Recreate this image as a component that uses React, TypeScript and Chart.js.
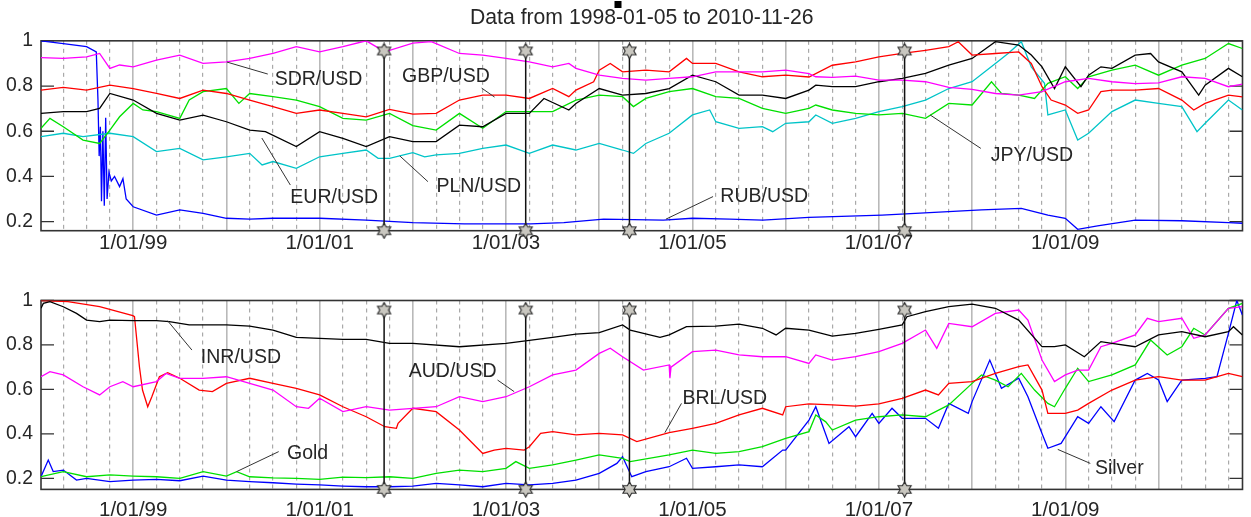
import React, { useEffect, useRef } from 'react';
import { Chart, registerables } from 'chart.js';

Chart.register(...registerables);

type P = [number, number];

// ---------- axes / labels ----------
const X_MIN = 1998.011; // 1998-01-05
const X_MAX = 2010.901; // 2010-11-26
const TITLE = 'Data from 1998-01-05 to 2010-11-26';
const Y_TICKS = [0.2, 0.4, 0.6, 0.8, 1];
const Y_TICK_LABELS = ['0.2', '0.4', '0.6', '0.8', '1'];
const X_LABEL_YEARS = [1999, 2001, 2003, 2005, 2007, 2009];
const X_LABELS = ['1/01/99', '1/01/01', '1/01/03', '1/01/05', '1/01/07', '1/01/09'];
const EVENTS = [2001.692, 2003.211, 2004.324, 2007.276];
const TOP_Y_MIN = 0.16;
const BOTTOM_Y_MIN = 0.15;

// ---------- top panel series ----------
const SDR_USD: P[] = [[1998.011,0.926],[1998.25,0.922],[1998.5,0.929],[1998.64,0.944],[1998.75,0.878],[1998.854,0.893],[1999.0,0.885],[1999.25,0.915],[1999.5,0.937],[1999.75,0.90],[2000.0,0.907],[2000.25,0.922],[2000.5,0.944],[2000.75,0.974],[2001.0,0.951],[2001.25,0.974],[2001.5,1.0],[2001.7,0.951],[2002.0,0.99],[2002.198,0.996],[2002.25,0.988],[2002.5,0.944],[2002.75,0.937],[2003.0,0.922],[2003.25,0.907],[2003.5,0.885],[2003.674,0.9],[2003.75,0.878],[2004.0,0.848],[2004.25,0.834],[2004.5,0.826],[2004.75,0.834],[2005.0,0.841],[2005.25,0.863],[2005.5,0.863],[2005.75,0.863],[2006.0,0.87],[2006.25,0.855],[2006.323,0.841],[2006.5,0.838],[2006.75,0.844],[2007.0,0.826],[2007.25,0.826],[2007.5,0.819],[2007.75,0.794],[2008.0,0.785],[2008.25,0.767],[2008.5,0.76],[2008.75,0.775],[2009.0,0.819],[2009.25,0.834],[2009.5,0.819],[2009.75,0.811],[2010.0,0.814],[2010.25,0.841],[2010.5,0.834],[2010.75,0.797],[2010.9,0.808]];
const GBP_USD: P[] = [[1998.011,0.782],[1998.25,0.794],[1998.5,0.782],[1998.75,0.804],[1999.0,0.789],[1999.25,0.767],[1999.5,0.745],[1999.75,0.782],[2000.0,0.767],[2000.25,0.738],[2000.5,0.709],[2000.75,0.679],[2001.0,0.694],[2001.25,0.679],[2001.5,0.664],[2001.75,0.697],[2002.0,0.676],[2002.25,0.679],[2002.5,0.738],[2002.75,0.76],[2003.0,0.76],[2003.25,0.745],[2003.5,0.789],[2003.674,0.753],[2003.75,0.782],[2003.94,0.819],[2004.0,0.87],[2004.118,0.9],[2004.25,0.863],[2004.5,0.87],[2004.75,0.863],[2004.936,0.922],[2005.0,0.9],[2005.25,0.9],[2005.5,0.863],[2005.75,0.841],[2006.0,0.848],[2006.25,0.84],[2006.5,0.892],[2006.75,0.907],[2007.0,0.929],[2007.25,0.944],[2007.5,0.958],[2007.75,0.974],[2007.852,0.996],[2008.0,0.937],[2008.25,0.944],[2008.5,0.951],[2008.635,0.9],[2008.75,0.797],[2008.848,0.738],[2009.0,0.716],[2009.133,0.679],[2009.25,0.694],[2009.382,0.775],[2009.5,0.782],[2009.75,0.782],[2010.0,0.789],[2010.25,0.738],[2010.378,0.694],[2010.5,0.723],[2010.75,0.76],[2010.9,0.752]];
const EUR_USD: P[] = [[1998.011,0.679],[1998.25,0.687],[1998.5,0.687],[1998.64,0.701],[1998.75,0.767],[1999.0,0.738],[1999.25,0.679],[1999.5,0.649],[1999.75,0.671],[2000.0,0.642],[2000.25,0.605],[2000.419,0.598],[2000.75,0.532],[2001.0,0.598],[2001.25,0.568],[2001.5,0.532],[2001.75,0.576],[2002.0,0.554],[2002.25,0.554],[2002.5,0.627],[2002.75,0.62],[2003.0,0.679],[2003.25,0.679],[2003.407,0.745],[2003.674,0.694],[2003.75,0.723],[2004.0,0.789],[2004.25,0.76],[2004.5,0.767],[2004.75,0.789],[2005.0,0.848],[2005.25,0.819],[2005.5,0.76],[2005.75,0.76],[2006.0,0.745],[2006.25,0.782],[2006.323,0.804],[2006.5,0.797],[2006.75,0.797],[2007.0,0.819],[2007.25,0.834],[2007.5,0.856],[2007.75,0.892],[2008.0,0.922],[2008.25,0.996],[2008.5,0.981],[2008.635,0.937],[2008.75,0.885],[2008.884,0.789],[2009.0,0.885],[2009.168,0.797],[2009.25,0.848],[2009.382,0.885],[2009.5,0.878],[2009.75,0.937],[2009.915,0.944],[2010.0,0.907],[2010.25,0.863],[2010.431,0.76],[2010.5,0.804],[2010.75,0.878],[2010.9,0.841]];
const JPY_USD: P[] = [[1998.011,0.613],[1998.107,0.657],[1998.25,0.62],[1998.462,0.561],[1998.64,0.546],[1998.75,0.605],[1998.854,0.664],[1999.0,0.723],[1999.104,0.694],[1999.25,0.687],[1999.5,0.657],[1999.601,0.738],[1999.75,0.775],[2000.0,0.789],[2000.134,0.723],[2000.25,0.767],[2000.5,0.753],[2000.75,0.738],[2001.0,0.709],[2001.25,0.657],[2001.5,0.649],[2001.75,0.679],[2002.0,0.625],[2002.25,0.605],[2002.5,0.679],[2002.75,0.613],[2003.0,0.687],[2003.25,0.687],[2003.5,0.687],[2003.75,0.738],[2004.0,0.76],[2004.25,0.753],[2004.367,0.709],[2004.5,0.745],[2004.75,0.775],[2005.0,0.789],[2005.25,0.753],[2005.5,0.745],[2005.75,0.701],[2006.0,0.679],[2006.25,0.701],[2006.323,0.716],[2006.5,0.694],[2006.75,0.679],[2007.0,0.672],[2007.25,0.679],[2007.5,0.657],[2007.75,0.723],[2008.0,0.716],[2008.208,0.819],[2008.315,0.767],[2008.5,0.76],[2008.67,0.745],[2008.813,0.812],[2009.0,0.841],[2009.133,0.789],[2009.25,0.841],[2009.5,0.87],[2009.75,0.892],[2010.0,0.848],[2010.25,0.892],[2010.5,0.922],[2010.75,0.988],[2010.9,0.966]];
const PLN_USD: P[] = [[1998.011,0.576],[1998.25,0.591],[1998.462,0.576],[1998.75,0.591],[1999.0,0.576],[1999.25,0.51],[1999.5,0.524],[1999.75,0.473],[2000.0,0.487],[2000.25,0.502],[2000.383,0.451],[2000.5,0.466],[2000.75,0.436],[2001.0,0.487],[2001.25,0.502],[2001.5,0.517],[2001.628,0.48],[2001.75,0.48],[2002.0,0.505],[2002.127,0.487],[2002.25,0.495],[2002.5,0.502],[2002.75,0.524],[2003.0,0.539],[2003.25,0.502],[2003.5,0.539],[2003.75,0.517],[2004.0,0.546],[2004.25,0.517],[2004.367,0.502],[2004.5,0.546],[2004.75,0.591],[2005.0,0.672],[2005.185,0.694],[2005.25,0.642],[2005.5,0.613],[2005.75,0.62],[2005.861,0.598],[2006.0,0.635],[2006.25,0.642],[2006.323,0.672],[2006.5,0.635],[2006.75,0.657],[2007.0,0.687],[2007.25,0.709],[2007.5,0.738],[2007.75,0.789],[2008.0,0.819],[2008.25,0.9],[2008.386,0.944],[2008.528,0.996],[2008.635,0.885],[2008.777,0.812],[2008.813,0.672],[2009.0,0.694],[2009.133,0.561],[2009.25,0.591],[2009.5,0.687],[2009.75,0.738],[2010.0,0.723],[2010.25,0.709],[2010.413,0.598],[2010.5,0.635],[2010.75,0.738],[2010.9,0.694]];
const RUB_USD: P[] = [[1998.011,1.0],[1998.25,0.988],[1998.5,0.974],[1998.604,0.951],[1998.622,0.74],[1998.635,0.49],[1998.648,0.62],[1998.66,0.29],[1998.675,0.6],[1998.69,0.27],[1998.705,0.66],[1998.72,0.3],[1998.74,0.42],[1998.765,0.38],[1998.8,0.4],[1998.854,0.355],[1998.89,0.39],[1998.925,0.3],[1999.0,0.266],[1999.25,0.229],[1999.5,0.252],[1999.75,0.237],[2000.0,0.215],[2000.25,0.211],[2000.5,0.215],[2001.0,0.215],[2001.5,0.207],[2002.0,0.196],[2002.553,0.19],[2003.263,0.19],[2003.62,0.196],[2004.047,0.211],[2004.687,0.207],[2005.0,0.215],[2005.399,0.211],[2005.754,0.207],[2006.249,0.219],[2007.034,0.229],[2007.746,0.244],[2008.101,0.252],[2008.528,0.259],[2008.813,0.229],[2009.0,0.215],[2009.133,0.166],[2009.346,0.181],[2009.75,0.207],[2010.25,0.204],[2010.75,0.196],[2010.9,0.193]];

// ---------- bottom panel series ----------
const INR_USD: P[] = [[1998.011,0.965],[1998.036,0.987],[1998.107,0.995],[1998.25,0.972],[1998.392,0.942],[1998.5,0.912],[1998.64,0.905],[1998.75,0.912],[1999.0,0.909],[1999.25,0.909],[1999.387,0.905],[1999.601,0.89],[2000.0,0.89],[2000.25,0.885],[2000.5,0.867],[2000.75,0.834],[2001.0,0.83],[2001.25,0.825],[2001.5,0.825],[2001.75,0.807],[2002.0,0.807],[2002.5,0.792],[2003.0,0.807],[2003.5,0.834],[2003.75,0.849],[2004.0,0.855],[2004.25,0.89],[2004.332,0.867],[2004.652,0.834],[2004.75,0.845],[2004.936,0.882],[2005.25,0.885],[2005.5,0.894],[2005.75,0.875],[2005.897,0.845],[2006.0,0.875],[2006.25,0.867],[2006.5,0.84],[2006.75,0.852],[2007.0,0.87],[2007.25,0.89],[2007.301,0.927],[2007.5,0.95],[2007.75,0.972],[2008.0,0.984],[2008.25,0.965],[2008.5,0.912],[2008.75,0.792],[2008.884,0.792],[2009.0,0.8],[2009.204,0.747],[2009.382,0.815],[2009.5,0.807],[2009.75,0.792],[2010.0,0.845],[2010.25,0.86],[2010.5,0.837],[2010.75,0.86],[2010.804,0.882],[2010.9,0.845]];
const AUD_USD: P[] = [[1998.011,0.657],[1998.107,0.68],[1998.25,0.665],[1998.462,0.612],[1998.64,0.575],[1998.75,0.612],[1998.889,0.635],[1999.0,0.612],[1999.25,0.635],[1999.352,0.672],[1999.5,0.65],[1999.75,0.65],[2000.0,0.657],[2000.25,0.627],[2000.5,0.597],[2000.75,0.522],[2000.881,0.515],[2001.0,0.56],[2001.25,0.5],[2001.5,0.522],[2001.75,0.507],[2002.0,0.515],[2002.25,0.522],[2002.5,0.567],[2002.75,0.545],[2003.0,0.567],[2003.25,0.612],[2003.5,0.665],[2003.75,0.687],[2004.0,0.762],[2004.118,0.785],[2004.25,0.747],[2004.474,0.687],[2004.75,0.71],[2004.758,0.65],[2004.77,0.7],[2005.0,0.77],[2005.25,0.777],[2005.5,0.755],[2005.75,0.747],[2006.0,0.747],[2006.25,0.717],[2006.323,0.755],[2006.5,0.732],[2006.75,0.747],[2007.0,0.77],[2007.25,0.807],[2007.5,0.867],[2007.621,0.785],[2007.75,0.897],[2008.0,0.882],[2008.25,0.942],[2008.5,0.957],[2008.599,0.912],[2008.75,0.732],[2008.884,0.635],[2009.0,0.665],[2009.133,0.687],[2009.25,0.687],[2009.382,0.792],[2009.5,0.807],[2009.75,0.845],[2009.88,0.92],[2010.0,0.905],[2010.25,0.92],[2010.378,0.83],[2010.5,0.845],[2010.75,0.965],[2010.9,0.972]];
const BRL_USD: P[] = [[1998.011,1.0],[1998.3,0.995],[1998.64,0.972],[1998.996,0.932],[1999.014,0.927],[1999.067,0.702],[1999.1,0.597],[1999.156,0.522],[1999.2,0.567],[1999.281,0.657],[1999.37,0.675],[1999.5,0.65],[1999.708,0.597],[1999.85,0.59],[2000.0,0.627],[2000.25,0.65],[2000.5,0.627],[2000.75,0.605],[2001.0,0.575],[2001.25,0.522],[2001.5,0.477],[2001.7,0.432],[2001.824,0.425],[2001.842,0.447],[2002.0,0.515],[2002.25,0.5],[2002.5,0.417],[2002.75,0.312],[2002.873,0.327],[2003.0,0.335],[2003.194,0.327],[2003.25,0.342],[2003.371,0.402],[2003.5,0.41],[2003.75,0.395],[2004.0,0.402],[2004.25,0.395],[2004.403,0.365],[2004.75,0.405],[2005.0,0.425],[2005.25,0.447],[2005.5,0.485],[2005.75,0.515],[2005.968,0.485],[2006.0,0.522],[2006.25,0.535],[2006.5,0.53],[2006.75,0.525],[2007.0,0.535],[2007.25,0.56],[2007.5,0.597],[2007.639,0.575],[2007.75,0.627],[2008.0,0.635],[2008.25,0.672],[2008.5,0.702],[2008.599,0.71],[2008.75,0.597],[2008.813,0.492],[2009.0,0.492],[2009.133,0.507],[2009.25,0.537],[2009.5,0.597],[2009.75,0.642],[2010.0,0.657],[2010.25,0.642],[2010.5,0.642],[2010.75,0.672],[2010.9,0.657]];
const GOLD: P[] = [[1998.011,0.207],[1998.25,0.23],[1998.5,0.207],[1998.75,0.215],[1999.0,0.21],[1999.25,0.207],[1999.5,0.2],[1999.75,0.23],[2000.0,0.21],[2000.11,0.23],[2000.25,0.207],[2000.5,0.202],[2000.75,0.2],[2001.0,0.195],[2001.25,0.205],[2001.5,0.203],[2001.75,0.207],[2002.0,0.2],[2002.25,0.222],[2002.5,0.237],[2002.75,0.23],[2003.0,0.245],[2003.105,0.275],[2003.25,0.245],[2003.5,0.26],[2003.75,0.282],[2004.0,0.305],[2004.25,0.29],[2004.332,0.275],[2004.75,0.305],[2005.0,0.327],[2005.25,0.312],[2005.5,0.32],[2005.75,0.342],[2006.0,0.38],[2006.25,0.41],[2006.323,0.485],[2006.43,0.454],[2006.5,0.417],[2006.75,0.462],[2007.0,0.477],[2007.25,0.485],[2007.5,0.477],[2007.75,0.53],[2008.0,0.627],[2008.101,0.665],[2008.25,0.642],[2008.386,0.612],[2008.528,0.672],[2008.67,0.597],[2008.813,0.537],[2008.884,0.522],[2009.0,0.605],[2009.133,0.695],[2009.25,0.635],[2009.5,0.665],[2009.75,0.71],[2009.915,0.822],[2010.093,0.755],[2010.25,0.792],[2010.378,0.875],[2010.5,0.845],[2010.75,0.965],[2010.9,0.987]];
const SILVER: P[] = [[1998.011,0.207],[1998.089,0.282],[1998.142,0.23],[1998.25,0.237],[1998.392,0.192],[1998.5,0.2],[1998.75,0.185],[1999.0,0.192],[1999.25,0.195],[1999.5,0.189],[1999.75,0.21],[2000.0,0.192],[2000.25,0.185],[2000.5,0.18],[2000.75,0.174],[2001.0,0.17],[2001.25,0.165],[2001.5,0.162],[2001.75,0.162],[2002.0,0.165],[2002.25,0.177],[2002.5,0.17],[2002.75,0.162],[2003.0,0.177],[2003.25,0.17],[2003.5,0.177],[2003.75,0.192],[2004.0,0.222],[2004.189,0.267],[2004.25,0.297],[2004.349,0.207],[2004.5,0.23],[2004.75,0.252],[2004.936,0.29],[2005.0,0.245],[2005.25,0.252],[2005.5,0.26],[2005.75,0.252],[2005.968,0.327],[2006.0,0.327],[2006.25,0.462],[2006.323,0.522],[2006.465,0.357],[2006.679,0.432],[2006.75,0.387],[2006.928,0.492],[2007.0,0.447],[2007.141,0.515],[2007.25,0.47],[2007.5,0.47],[2007.639,0.425],[2007.75,0.537],[2007.959,0.492],[2008.0,0.545],[2008.19,0.732],[2008.315,0.605],[2008.5,0.65],[2008.599,0.567],[2008.75,0.402],[2008.813,0.335],[2008.955,0.357],[2009.133,0.477],[2009.25,0.447],[2009.382,0.522],[2009.524,0.455],[2009.75,0.642],[2009.88,0.672],[2010.0,0.642],[2010.093,0.545],[2010.25,0.642],[2010.5,0.65],[2010.627,0.657],[2010.75,0.852],[2010.84,1.0],[2010.9,0.935]];

// ---------- annotations (data coordinates) ----------
type Note = { text: string; x1: number; y1: number; x2: number; y2: number; tx: number; ty: number };
const TOP_NOTES: Note[] = [
  { text: 'SDR/USD', x1: 2000.006, y1: 0.906, x2: 2000.444, y2: 0.853, tx: 2000.518, ty: 0.83 },
  { text: 'GBP/USD', x1: 2002.877, y1: 0.751, x2: 2002.738, y2: 0.791, tx: 2001.884, ty: 0.84 },
  { text: 'EUR/USD', x1: 2000.38, y1: 0.57, x2: 2000.686, y2: 0.362, tx: 2000.686, ty: 0.305 },
  { text: 'PLN/USD', x1: 2001.86, y1: 0.491, x2: 2002.162, y2: 0.377, tx: 2002.254, ty: 0.353 },
  { text: 'RUB/USD', x1: 2004.715, y1: 0.211, x2: 2005.221, y2: 0.311, tx: 2005.299, ty: 0.309 },
  { text: 'JPY/USD', x1: 2007.55, y1: 0.672, x2: 2008.094, y2: 0.524, tx: 2008.201, ty: 0.49 },
];
const BOTTOM_NOTES: Note[] = [
  { text: 'INR/USD', x1: 1999.369, y1: 0.909, x2: 1999.63, y2: 0.777, tx: 1999.726, ty: 0.744 },
  { text: 'AUD/USD', x1: 2003.087, y1: 0.59, x2: 2002.909, y2: 0.642, tx: 2001.956, ty: 0.68 },
  { text: 'BRL/USD', x1: 2004.704, y1: 0.405, x2: 2004.882, y2: 0.537, tx: 2004.893, ty: 0.557 },
  { text: 'Gold', x1: 2000.11, y1: 0.23, x2: 2000.561, y2: 0.32, tx: 2000.65, ty: 0.309 },
  { text: 'Silver', x1: 2008.919, y1: 0.33, x2: 2009.268, y2: 0.267, tx: 2009.318, ty: 0.245 },
];

const FONT = "'Liberation Sans', Arial, Helvetica, sans-serif";
const TEXT = '#262626';

type Series = { data: P[]; color: string };

function makeStar(): HTMLCanvasElement {
  const c = document.createElement('canvas');
  c.width = 17;
  c.height = 17;
  const g = c.getContext('2d')!;
  g.beginPath();
  for (let i = 0; i < 12; i++) {
    const r = i % 2 === 0 ? 7.6 : 4.3;
    const a = -Math.PI / 2 + (i * Math.PI) / 6;
    const px = 8.5 + r * Math.cos(a);
    const py = 8.5 + r * Math.sin(a);
    if (i === 0) g.moveTo(px, py);
    else g.lineTo(px, py);
  }
  g.closePath();
  g.fillStyle = '#c9c7c0';
  g.fill();
  g.strokeStyle = '#2a2a2a';
  g.lineWidth = 1.1;
  g.stroke();
  return c;
}

const isYear = (v: number | undefined) => v !== undefined && Math.abs(v - Math.round(v)) < 1e-6;

function buildConfig(
  series: Series[],
  notes: Note[],
  yMin: number,
  starTop: number,
  xHeight: number,
  xPad: number,
  padTop: number,
  withTitle: boolean
): any {
  const star = makeStar();
  const quarters: number[] = [];
  for (let i = 1; 1998 + i / 4 <= X_MAX; i++) quarters.push(1998 + i / 4);

  const decor = {
    id: 'decor',
    beforeDatasetsDraw(chart: any) {
      const { ctx, chartArea: a, scales } = chart;
      const y = scales.y;
      ctx.save();
      ctx.strokeStyle = '#333';
      ctx.lineWidth = 1.3;
      for (const v of Y_TICKS) {
        const py = y.getPixelForValue(v);
        ctx.beginPath();
        ctx.moveTo(a.left, py);
        ctx.lineTo(a.left + 13, py);
        ctx.moveTo(a.right - 13, py);
        ctx.lineTo(a.right, py);
        ctx.stroke();
      }
      ctx.lineWidth = 1.6;
      ctx.strokeRect(a.left, a.top, a.right - a.left, a.bottom - a.top);
      if (withTitle) {
        ctx.fillStyle = '#000';
        ctx.fillRect(614.5, 1, 7, 7);
      }
      ctx.restore();
    },
    afterDatasetsDraw(chart: any) {
      const { ctx, scales } = chart;
      const x = scales.x;
      const y = scales.y;
      ctx.save();
      ctx.strokeStyle = '#333';
      ctx.lineWidth = 1;
      ctx.fillStyle = TEXT;
      ctx.font = `19.5px ${FONT}`;
      ctx.textAlign = 'left';
      ctx.textBaseline = 'middle';
      for (const n of notes) {
        ctx.beginPath();
        ctx.moveTo(x.getPixelForValue(n.x1), y.getPixelForValue(n.y1));
        ctx.lineTo(x.getPixelForValue(n.x2), y.getPixelForValue(n.y2));
        ctx.stroke();
        ctx.fillText(n.text, x.getPixelForValue(n.tx), y.getPixelForValue(n.ty));
      }
      ctx.restore();
    },
  };

  const datasets: any[] = [];
  EVENTS.forEach((t) => {
    datasets.push({
      data: [
        { x: t, y: starTop },
        { x: t, y: yMin },
      ],
      borderColor: '#111',
      borderWidth: 1.5,
      pointStyle: star,
      pointRadius: 7,
      clip: false,
      order: 0,
    });
  });
  series.forEach((s, i) => {
    datasets.push({
      data: s.data.map(([px, py]) => ({ x: px, y: py })),
      borderColor: s.color,
      borderWidth: 1.3,
      pointRadius: 0,
      tension: 0,
      order: 1 + i,
    });
  });

  return {
    type: 'line',
    data: { datasets },
    plugins: [decor],
    options: {
      animation: false,
      responsive: false,
      events: [],
      layout: { padding: { left: 0, right: 2, top: padTop, bottom: 0 } },
      plugins: {
        legend: { display: false },
        tooltip: { enabled: false },
        title: {
          display: withTitle,
          text: TITLE,
          fullSize: false,
          color: TEXT,
          font: { size: 21.2, family: FONT, weight: 'normal', lineHeight: 1.1 },
          padding: { top: 6, bottom: 11.5 },
        },
      },
      scales: {
        x: {
          type: 'linear',
          min: X_MIN,
          max: X_MAX,
          afterBuildTicks: (s: any) => {
            s.ticks = quarters.map((v) => ({ value: v }));
          },
          afterFit: (s: any) => {
            s.height = xHeight;
          },
          grid: {
            drawTicks: false,
            color: (c: any) => (isYear(c.tick?.value) ? '#b9b9b9' : '#a9a9a9'),
            lineWidth: (c: any) => (isYear(c.tick?.value) ? 1.6 : 1.2),
          },
          border: {
            display: false,
            dash: (c: any) => (c.tick && !isYear(c.tick.value) ? [4, 4] : []),
          },
          ticks: {
            autoSkip: false,
            maxRotation: 0,
            minRotation: 0,
            padding: xPad,
            color: TEXT,
            font: { size: 20.5, family: FONT },
            callback: (v: any) => {
              const i = X_LABEL_YEARS.findIndex((yy) => Math.abs(yy - Number(v)) < 1e-6);
              return i >= 0 ? X_LABELS[i] : '';
            },
          },
        },
        y: {
          type: 'linear',
          min: yMin,
          max: 1,
          afterBuildTicks: (s: any) => {
            s.ticks = Y_TICKS.map((v) => ({ value: v }));
          },
          afterFit: (s: any) => {
            s.width = 41;
          },
          grid: { display: false, drawTicks: false },
          border: { display: false },
          ticks: {
            padding: 8,
            color: TEXT,
            font: { size: 19.4, family: FONT },
            callback: (v: any) => {
              const i = Y_TICKS.findIndex((t) => Math.abs(t - Number(v)) < 1e-9);
              return i >= 0 ? Y_TICK_LABELS[i] : '';
            },
          },
        },
      },
    },
  };
}

function Panel(props: {
  top: number;
  height: number;
  series: Series[];
  notes: Note[];
  yMin: number;
  starTop: number;
  xHeight: number;
  xPad: number;
  padTop: number;
  withTitle: boolean;
}) {
  const ref = useRef<HTMLCanvasElement | null>(null);
  useEffect(() => {
    if (!ref.current) return;
    const chart = new Chart(
      ref.current,
      buildConfig(props.series, props.notes, props.yMin, props.starTop, props.xHeight, props.xPad, props.padTop, props.withTitle)
    );
    return () => chart.destroy();
  }, []);
  return (
    <div style={{ position: 'absolute', left: 0, top: props.top, width: 1251, height: props.height }}>
      <canvas ref={ref} width={1251} height={props.height} style={{ display: 'block', width: 1251, height: props.height }} />
    </div>
  );
}

export default function App() {
  const topSeries: Series[] = [
    { data: SDR_USD, color: '#ff00ff' },
    { data: GBP_USD, color: '#ff0000' },
    { data: EUR_USD, color: '#000000' },
    { data: JPY_USD, color: '#00e000' },
    { data: PLN_USD, color: '#00c4c8' },
    { data: RUB_USD, color: '#0000ff' },
  ];
  const bottomSeries: Series[] = [
    { data: INR_USD, color: '#000000' },
    { data: AUD_USD, color: '#ff00ff' },
    { data: BRL_USD, color: '#ff0000' },
    { data: GOLD, color: '#00e000' },
    { data: SILVER, color: '#0000ff' },
  ];
  return (
    <div style={{ position: 'absolute', left: 0, top: 0, width: 1251, height: 517, background: '#fff', overflow: 'hidden' }}>
      <Panel top={0} height={252} series={topSeries} notes={TOP_NOTES} yMin={TOP_Y_MIN} starTop={0.955} xHeight={21.3} xPad={0} padTop={0} withTitle={true} />
      <Panel top={258} height={259} series={bottomSeries} notes={BOTTOM_NOTES} yMin={BOTTOM_Y_MIN} starTop={0.957} xHeight={27.6} xPad={9} padTop={42.5} withTitle={false} />
    </div>
  );
}
